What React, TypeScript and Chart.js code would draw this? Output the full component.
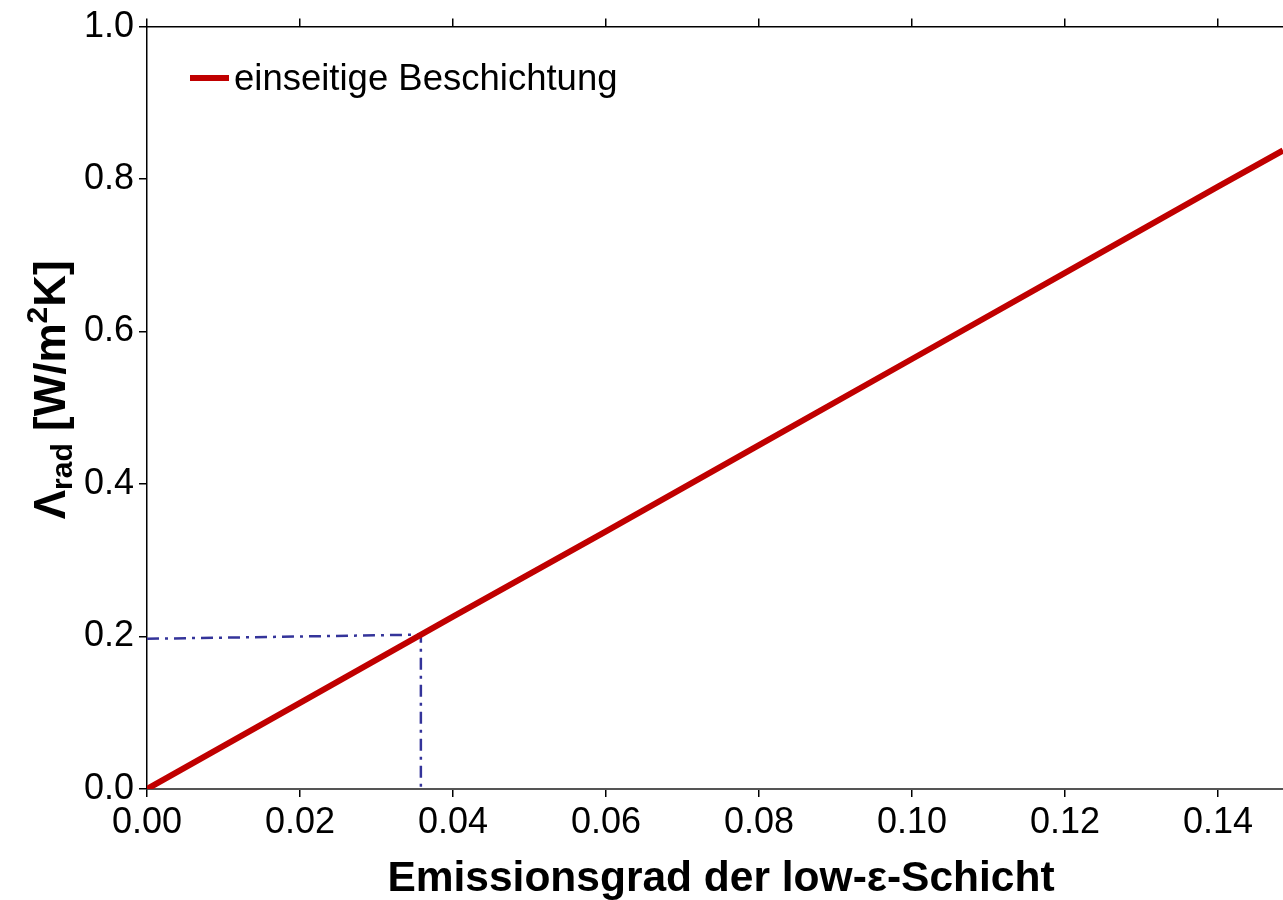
import { useEffect, useRef } from 'react';
import { Chart, registerables } from 'chart.js';

Chart.register(...registerables);

// Emissivity of the low-e layer and the resulting radiative conductance
const emissivity = [0, 0.02, 0.04, 0.06, 0.08, 0.1, 0.12, 0.14, 0.1485];
const lambdaRad = [0, 0.113, 0.226, 0.338, 0.451, 0.564, 0.677, 0.79, 0.8375];

// Guide marking the reading at Λrad ≈ 0.2
const guideX = [0, 0.0358, 0.0358];
const guideY = [0.197, 0.2025, 0];

const seriesLabel = 'einseitige Beschichtung';
const xTitle = 'Emissionsgrad der low-ε-Schicht';
const xMin = 0;
const xMax = 0.1485;
const xStep = 0.02;
const yMin = 0;
const yMax = 1.0;
const yStep = 0.2;

const FONT = '"Liberation Sans", Arial, Helvetica, sans-serif';
const RED = '#c00000';
const BLUE = '#34349a';

const decorPlugin = {
  id: 'decor',
  afterDraw(chart: any) {
    const ctx = chart.ctx as CanvasRenderingContext2D;
    const area = chart.chartArea;
    ctx.save();

    // legend
    const ds = chart.data.datasets[0];
    ctx.strokeStyle = ds.borderColor;
    ctx.lineWidth = 6;
    ctx.beginPath();
    ctx.moveTo(190, 78);
    ctx.lineTo(229, 78);
    ctx.stroke();
    ctx.fillStyle = '#000';
    ctx.font = `36.5px ${FONT}`;
    ctx.textBaseline = 'middle';
    ctx.textAlign = 'left';
    ctx.fillText(ds.label, 234, 80);

    // x title
    ctx.font = `bold 42.5px ${FONT}`;
    ctx.textAlign = 'center';
    ctx.textBaseline = 'alphabetic';
    ctx.fillText(xTitle, 721, 891);

    // y title with subscript / superscript
    const parts: [string, number, number][] = [
      ['Λ', 44, 0],
      ['rad', 30, 7],
      [' [W/m', 44, 0],
      ['2', 30, -18],
      ['K]', 44, 0],
    ];
    let total = 0;
    for (const [t, s] of parts) {
      ctx.font = `bold ${s}px ${FONT}`;
      total += ctx.measureText(t).width;
    }
    ctx.translate(65, (area.top + area.bottom) / 2 - 18);
    ctx.rotate(-Math.PI / 2);
    ctx.textAlign = 'left';
    let xp = -total / 2;
    for (const [t, s, off] of parts) {
      ctx.font = `bold ${s}px ${FONT}`;
      ctx.fillText(t, xp, off);
      xp += ctx.measureText(t).width;
    }
    ctx.restore();
  },
};

function App() {
  const canvasRef = useRef<HTMLCanvasElement | null>(null);

  useEffect(() => {
    document.body.style.margin = '0';
    const canvas = canvasRef.current;
    if (!canvas) return;
    const chart = new Chart(canvas, {
      type: 'line',
      data: {
        datasets: [
          {
            label: seriesLabel,
            data: emissivity.map((x, i) => ({ x, y: lambdaRad[i] })),
            borderColor: RED,
            borderWidth: 6,
            pointRadius: 0,
            fill: false,
            tension: 0,
          },
          {
            label: 'guide',
            data: guideX.map((x, i) => ({ x, y: guideY[i] })),
            borderColor: BLUE,
            borderWidth: 2.5,
            borderDash: [12, 6, 3, 6],
            pointRadius: 0,
            fill: false,
            tension: 0,
          },
        ],
      },
      options: {
        animation: false,
        responsive: false,
        maintainAspectRatio: false,
        layout: { padding: 0 },
        plugins: {
          legend: { display: false },
          tooltip: { enabled: false },
        },
        scales: {
          x: {
            type: 'linear',
            position: 'bottom',
            min: xMin,
            max: xMax,
            border: { display: true, color: '#555', width: 2 },
            grid: { drawOnChartArea: false, drawTicks: true, tickLength: 8, color: '#000', lineWidth: 1.5 },
            ticks: {
              stepSize: xStep,
              includeBounds: false,
              padding: 4,
              color: '#000',
              font: { family: FONT, size: 36 },
              maxRotation: 0,
              autoSkip: false,
              callback: (v: any) => Number(v).toFixed(2),
            },
            afterFit: (s: any) => {
              s.height = 111;
            },
          },
          x2: {
            type: 'linear',
            position: 'top',
            min: xMin,
            max: xMax,
            border: { display: true, color: '#000', width: 1.5 },
            grid: { drawOnChartArea: false, drawTicks: true, tickLength: 8, color: '#000', lineWidth: 1.5 },
            ticks: { stepSize: xStep, includeBounds: false, display: false },
            afterFit: (s: any) => {
              s.height = 23;
            },
          },
          y: {
            type: 'linear',
            min: yMin,
            max: yMax,
            border: { display: true, color: '#000', width: 1.5 },
            grid: { drawOnChartArea: false, drawTicks: true, tickLength: 8, color: '#000', lineWidth: 1.5 },
            ticks: {
              stepSize: yStep,
              padding: 5,
              color: '#000',
              font: { family: FONT, size: 36 },
              callback: (v: any) => Number(v).toFixed(1),
            },
            afterFit: (s: any) => {
              s.width = 147;
            },
          },
        },
      },
      plugins: [decorPlugin],
    });
    return () => chart.destroy();
  }, []);

  return (
    <div style={{ width: 1283, height: 900, background: '#fff' }}>
      <canvas ref={canvasRef} width={1283} height={900} style={{ display: 'block' }} />
    </div>
  );
}

export default App;
